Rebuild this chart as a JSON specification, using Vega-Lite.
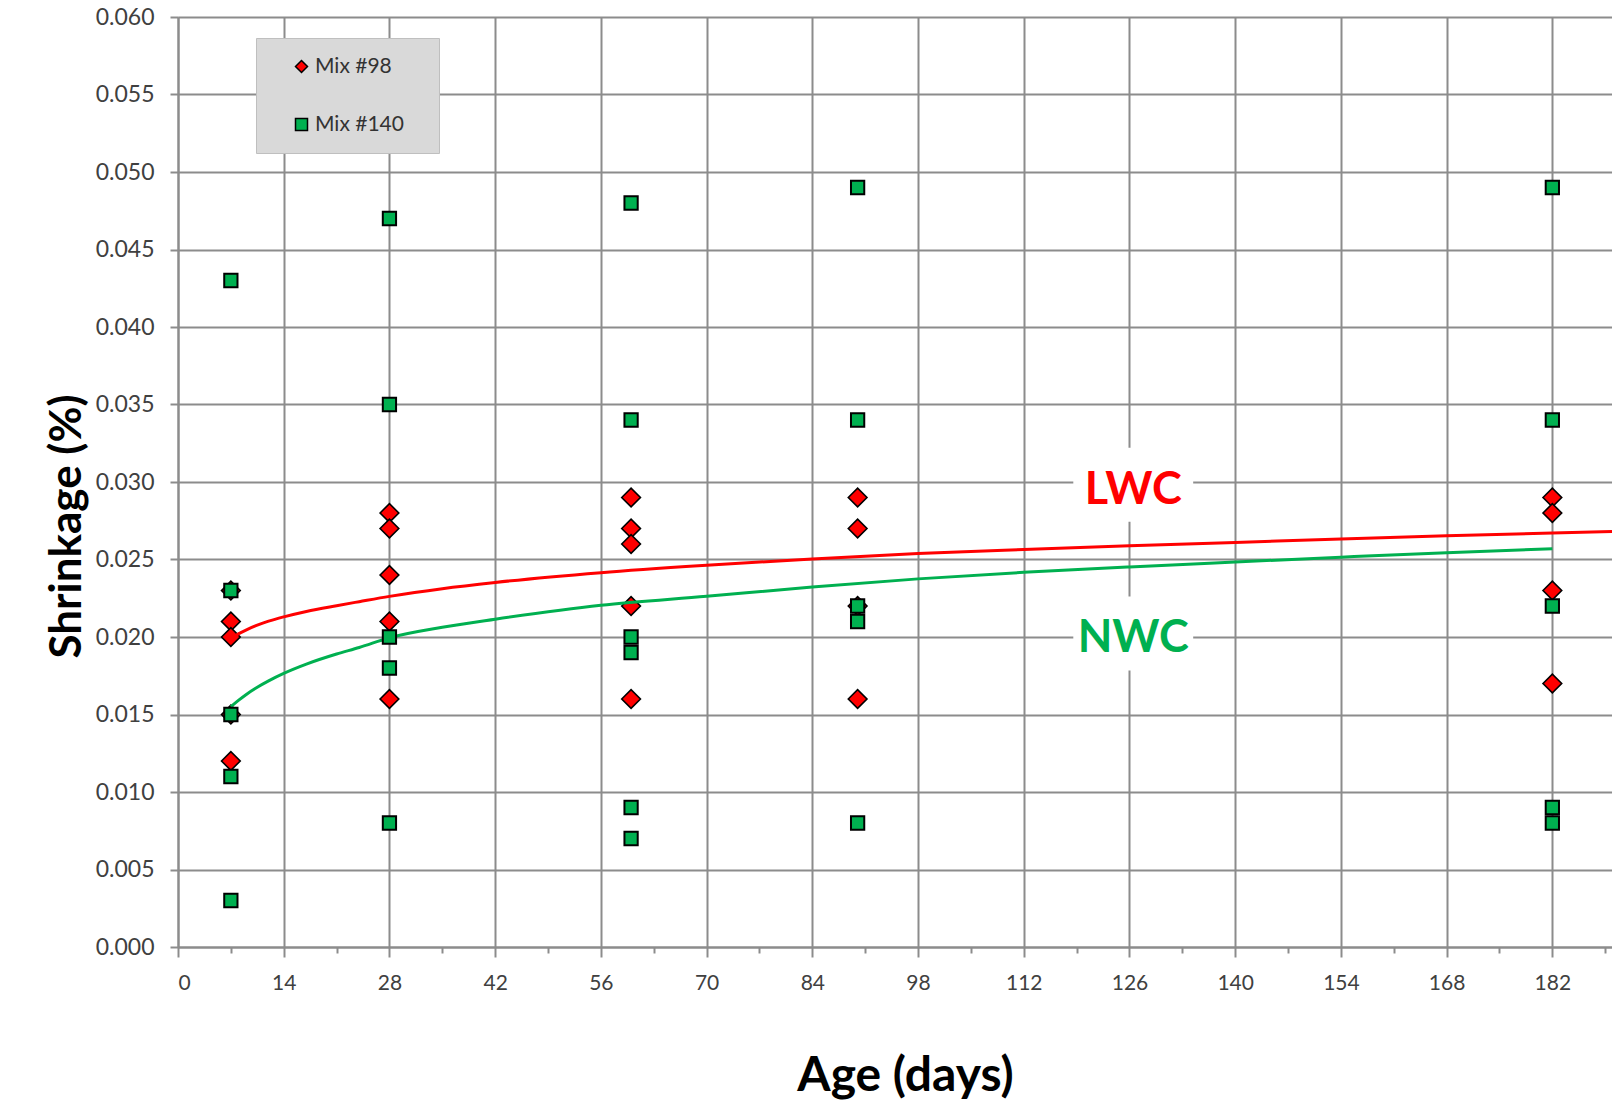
{
  "$schema": "https://vega.github.io/schema/vega-lite/v6.json",
  "width": 1434,
  "height": 930,
  "autosize": {"type": "none"},
  "padding": {"left": 178, "top": 17, "right": 0, "bottom": 155},
  "background": "white",
  "config": {
    "view": {"stroke": null},
    "font": "Lato",
    "legend": {
      "orient": "none",
      "legendX": 78,
      "legendY": 21,
      "fillColor": "#d9d9d9",
      "strokeColor": "#bfbfbf",
      "padding": 18,
      "rowPadding": 36,
      "symbolOffset": 17,
      "labelOffset": 3,
      "labelFont": "Lato",
      "labelFontSize": 21,
      "labelColor": "#333333",
      "symbolSize": 144,
      "symbolStrokeColor": "black",
      "symbolStrokeWidth": 1.5
    }
  },
  "datasets": {
    "points": [
      {"day": 7, "value": 0.023, "series": "Mix #98"},
      {"day": 7, "value": 0.021, "series": "Mix #98"},
      {"day": 7, "value": 0.020, "series": "Mix #98"},
      {"day": 7, "value": 0.015, "series": "Mix #98"},
      {"day": 7, "value": 0.012, "series": "Mix #98"},
      {"day": 28, "value": 0.028, "series": "Mix #98"},
      {"day": 28, "value": 0.027, "series": "Mix #98"},
      {"day": 28, "value": 0.024, "series": "Mix #98"},
      {"day": 28, "value": 0.021, "series": "Mix #98"},
      {"day": 28, "value": 0.016, "series": "Mix #98"},
      {"day": 60, "value": 0.029, "series": "Mix #98"},
      {"day": 60, "value": 0.027, "series": "Mix #98"},
      {"day": 60, "value": 0.026, "series": "Mix #98"},
      {"day": 60, "value": 0.022, "series": "Mix #98"},
      {"day": 60, "value": 0.016, "series": "Mix #98"},
      {"day": 90, "value": 0.029, "series": "Mix #98"},
      {"day": 90, "value": 0.027, "series": "Mix #98"},
      {"day": 90, "value": 0.022, "series": "Mix #98"},
      {"day": 90, "value": 0.016, "series": "Mix #98"},
      {"day": 182, "value": 0.029, "series": "Mix #98"},
      {"day": 182, "value": 0.028, "series": "Mix #98"},
      {"day": 182, "value": 0.023, "series": "Mix #98"},
      {"day": 182, "value": 0.017, "series": "Mix #98"},
      {"day": 7, "value": 0.043, "series": "Mix #140"},
      {"day": 7, "value": 0.023, "series": "Mix #140"},
      {"day": 7, "value": 0.015, "series": "Mix #140"},
      {"day": 7, "value": 0.011, "series": "Mix #140"},
      {"day": 7, "value": 0.003, "series": "Mix #140"},
      {"day": 28, "value": 0.047, "series": "Mix #140"},
      {"day": 28, "value": 0.035, "series": "Mix #140"},
      {"day": 28, "value": 0.020, "series": "Mix #140"},
      {"day": 28, "value": 0.018, "series": "Mix #140"},
      {"day": 28, "value": 0.008, "series": "Mix #140"},
      {"day": 60, "value": 0.048, "series": "Mix #140"},
      {"day": 60, "value": 0.034, "series": "Mix #140"},
      {"day": 60, "value": 0.020, "series": "Mix #140"},
      {"day": 60, "value": 0.019, "series": "Mix #140"},
      {"day": 60, "value": 0.009, "series": "Mix #140"},
      {"day": 60, "value": 0.007, "series": "Mix #140"},
      {"day": 90, "value": 0.049, "series": "Mix #140"},
      {"day": 90, "value": 0.034, "series": "Mix #140"},
      {"day": 90, "value": 0.022, "series": "Mix #140"},
      {"day": 90, "value": 0.021, "series": "Mix #140"},
      {"day": 90, "value": 0.008, "series": "Mix #140"},
      {"day": 182, "value": 0.049, "series": "Mix #140"},
      {"day": 182, "value": 0.034, "series": "Mix #140"},
      {"day": 182, "value": 0.022, "series": "Mix #140"},
      {"day": 182, "value": 0.009, "series": "Mix #140"},
      {"day": 182, "value": 0.008, "series": "Mix #140"}
    ],
    "curves": [
      {"day": 7, "value": 0.0199, "curve": "LWC"},
      {"day": 8, "value": 0.0202, "curve": "LWC"},
      {"day": 9, "value": 0.02045, "curve": "LWC"},
      {"day": 10.5, "value": 0.02076, "curve": "LWC"},
      {"day": 12, "value": 0.02102, "curve": "LWC"},
      {"day": 14, "value": 0.0213, "curve": "LWC"},
      {"day": 17, "value": 0.02165, "curve": "LWC"},
      {"day": 21, "value": 0.02202, "curve": "LWC"},
      {"day": 24, "value": 0.02228, "curve": "LWC"},
      {"day": 28, "value": 0.02262, "curve": "LWC"},
      {"day": 35, "value": 0.02312, "curve": "LWC"},
      {"day": 42, "value": 0.02352, "curve": "LWC"},
      {"day": 56, "value": 0.02415, "curve": "LWC"},
      {"day": 70, "value": 0.02463, "curve": "LWC"},
      {"day": 84, "value": 0.02504, "curve": "LWC"},
      {"day": 98, "value": 0.02538, "curve": "LWC"},
      {"day": 112, "value": 0.02564, "curve": "LWC"},
      {"day": 126, "value": 0.02588, "curve": "LWC"},
      {"day": 140, "value": 0.0261, "curve": "LWC"},
      {"day": 154, "value": 0.02633, "curve": "LWC"},
      {"day": 168, "value": 0.02653, "curve": "LWC"},
      {"day": 182, "value": 0.02671, "curve": "LWC"},
      {"day": 189.9, "value": 0.0268, "curve": "LWC"},
      {"day": 7, "value": 0.0155, "curve": "NWC"},
      {"day": 8, "value": 0.01591, "curve": "NWC"},
      {"day": 9, "value": 0.01628, "curve": "NWC"},
      {"day": 10.5, "value": 0.01676, "curve": "NWC"},
      {"day": 12, "value": 0.01717, "curve": "NWC"},
      {"day": 14, "value": 0.01765, "curve": "NWC"},
      {"day": 17, "value": 0.01825, "curve": "NWC"},
      {"day": 21, "value": 0.0189, "curve": "NWC"},
      {"day": 24, "value": 0.01932, "curve": "NWC"},
      {"day": 28, "value": 0.01995, "curve": "NWC"},
      {"day": 35, "value": 0.02063, "curve": "NWC"},
      {"day": 42, "value": 0.02115, "curve": "NWC"},
      {"day": 56, "value": 0.02205, "curve": "NWC"},
      {"day": 70, "value": 0.02263, "curve": "NWC"},
      {"day": 84, "value": 0.02322, "curve": "NWC"},
      {"day": 98, "value": 0.02375, "curve": "NWC"},
      {"day": 112, "value": 0.02417, "curve": "NWC"},
      {"day": 126, "value": 0.02452, "curve": "NWC"},
      {"day": 140, "value": 0.02484, "curve": "NWC"},
      {"day": 154, "value": 0.02515, "curve": "NWC"},
      {"day": 168, "value": 0.02544, "curve": "NWC"},
      {"day": 182, "value": 0.02569, "curve": "NWC"}
    ],
    "labels": [
      {"day": 126.5, "value": 0.0297, "label": "LWC"},
      {"day": 126.5, "value": 0.0201, "label": "NWC"}
    ]
  },
  "encoding": {
    "x": {
      "field": "day",
      "type": "quantitative",
      "scale": {"domain": [0, 189.9], "nice": false, "zero": false},
      "axis": {
        "title": "Age (days)",
        "values": [0, 7, 14, 21, 28, 35, 42, 49, 56, 63, 70, 77, 84, 91, 98, 105, 112, 119, 126, 133, 140, 147, 154, 161, 168, 175, 182, 189],
        "labelExpr": "datum.value % 14 === 0 ? datum.label : ''",
        "labelOverlap": false,
        "grid": true,
        "gridColor": {"condition": {"test": "datum.value % 14 !== 0", "value": "transparent"}, "value": "#8c8c8c"},
        "gridWidth": 2,
        "tickSize": {"condition": {"test": "datum.value % 14 !== 0", "value": 6}, "value": 10},
        "tickColor": "#8c8c8c",
        "tickWidth": 2,
        "domainColor": "#8c8c8c",
        "domainWidth": 2,
        "labelFont": "Lato",
        "labelFontSize": 21,
        "labelColor": "#404040",
        "labelPadding": 15,
        "titleFont": "Lato",
        "titleFontSize": 48,
        "titleFontWeight": "bold",
        "titleColor": "black",
        "titleX": 727,
        "titleY": 143,
        "titleAlign": "center",
        "titleBaseline": "alphabetic"
      }
    },
    "y": {
      "field": "value",
      "type": "quantitative",
      "scale": {"domain": [0, 0.06], "nice": false},
      "axis": {
        "title": "Shrinkage (%)",
        "values": [0, 0.005, 0.01, 0.015, 0.02, 0.025, 0.03, 0.035, 0.04, 0.045, 0.05, 0.055, 0.06],
        "format": ".3f",
        "grid": true,
        "gridColor": "#8c8c8c",
        "gridWidth": 2,
        "tickSize": 8,
        "tickColor": "#8c8c8c",
        "tickWidth": 2,
        "domainColor": "#8c8c8c",
        "domainWidth": 2,
        "labelFont": "Lato",
        "labelFontSize": 23,
        "labelColor": "#404040",
        "labelPadding": 16,
        "titleFont": "Lato",
        "titleFontSize": 44,
        "titleFontWeight": "bold",
        "titleColor": "black",
        "titleAngle": -90,
        "titleX": -98,
        "titleY": 509,
        "titleAlign": "center",
        "titleBaseline": "alphabetic"
      }
    }
  },
  "layer": [
    {
      "data": {"name": "labels"},
      "mark": {"type": "point", "shape": "M-1.62,-1H1.62V1H-1.62Z", "filled": true, "fill": "white", "stroke": null, "opacity": 1, "size": 5476, "yOffset": -2}
    },
    {
      "data": {"name": "points"},
      "transform": [{"filter": "datum.series === 'Mix #98'"}],
      "mark": {"type": "point", "filled": true, "opacity": 1, "stroke": "black", "strokeWidth": 1.6, "size": 350},
      "encoding": {
        "color": {"field": "series", "type": "nominal", "scale": {"domain": ["Mix #98", "Mix #140"], "range": ["#ff0000", "#00b050"]}, "legend": {"title": null, "labelExpr": "datum.label + '\u00a0\u00a0\u00a0\u200b'"}},
        "shape": {"field": "series", "type": "nominal", "scale": {"domain": ["Mix #98", "Mix #140"], "range": ["diamond", "square"]}, "legend": {"title": null, "labelExpr": "datum.label + '\u00a0\u00a0\u00a0\u200b'"}}
      }
    },
    {
      "data": {"name": "curves"},
      "transform": [{"filter": "datum.curve === 'LWC'"}],
      "mark": {"type": "line", "color": "#ff0000", "strokeWidth": 3, "interpolate": "monotone", "clip": true}
    },
    {
      "data": {"name": "curves"},
      "transform": [{"filter": "datum.curve === 'NWC'"}],
      "mark": {"type": "line", "color": "#00b050", "strokeWidth": 3, "interpolate": "monotone", "clip": true}
    },
    {
      "data": {"name": "points"},
      "transform": [{"filter": "datum.series === 'Mix #140'"}],
      "mark": {"type": "point", "filled": true, "opacity": 1, "stroke": "black", "strokeWidth": 2, "size": 176},
      "encoding": {
        "color": {"field": "series", "type": "nominal", "scale": {"domain": ["Mix #98", "Mix #140"], "range": ["#ff0000", "#00b050"]}, "legend": {"title": null, "labelExpr": "datum.label + '\u00a0\u00a0\u00a0\u200b'"}},
        "shape": {"field": "series", "type": "nominal", "scale": {"domain": ["Mix #98", "Mix #140"], "range": ["diamond", "square"]}, "legend": {"title": null, "labelExpr": "datum.label + '\u00a0\u00a0\u00a0\u200b'"}}
      }
    },
    {
      "data": {"name": "labels"},
      "mark": {"type": "text", "font": "Lato", "fontSize": 45, "fontWeight": "bold", "align": "center", "baseline": "middle", "dy": 3},
      "encoding": {
        "text": {"field": "label"},
        "color": {"condition": {"test": "datum.label === 'LWC'", "value": "#ff0000"}, "value": "#00b050"}
      }
    }
  ]
}
